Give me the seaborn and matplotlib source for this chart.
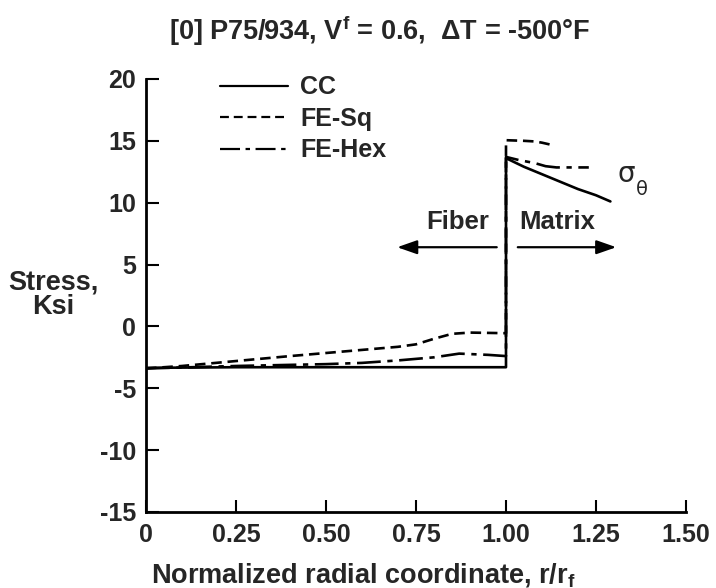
import matplotlib
matplotlib.use("Agg")
import matplotlib.pyplot as plt
import seaborn as sns
import pandas as pd

sns.set_theme(style="white")
FAM = ['Liberation Sans', 'DejaVu Sans']
plt.rcParams['font.family'] = FAM
plt.rcParams['font.weight'] = 'bold'
plt.rcParams['mathtext.fontset'] = 'custom'
plt.rcParams['mathtext.rm'] = 'Liberation Sans:bold'
plt.rcParams['mathtext.it'] = 'Liberation Sans:bold'
plt.rcParams['mathtext.bf'] = 'Liberation Sans:bold'

# CC (concentric cylinder)
cc_r = [0.0, 0.25, 0.5, 0.75, 1.0, 1.0, 1.05, 1.10, 1.15, 1.20, 1.25, 1.29]
cc_s = [-3.35, -3.3, -3.3, -3.3, -3.3, 13.6, 12.9, 12.3, 11.7, 11.1, 10.6, 10.1]

# FE square array
sq_r = [0.0, 0.1, 0.25, 0.4, 0.5, 0.6, 0.7, 0.75, 0.8, 0.85, 0.9, 1.0, 1.0, 1.05, 1.08, 1.10, 1.13]
sq_s = [-3.4, -3.2, -2.8, -2.4, -2.15, -1.9, -1.65, -1.45, -1.0, -0.6, -0.5, -0.55, 15.05, 15.0, 14.95, 14.85, 14.65]

# FE hexagonal array
hx_r = [0.0, 0.25, 0.5, 0.6, 0.7, 0.8, 0.87, 0.95, 1.0, 1.0, 1.035, 1.08, 1.11, 1.14, 1.23]
hx_s = [-3.4, -3.2, -3.05, -2.95, -2.75, -2.5, -2.2, -2.3, -2.4, 13.7, 13.45, 13.2, 12.95, 12.85, 12.85]

x_ticks = [0, 0.25, 0.5, 0.75, 1.0, 1.25, 1.5]
x_tick_labels = ["0", "0.25", "0.50", "0.75", "1.00", "1.25", "1.50"]
y_ticks = [-15, -10, -5, 0, 5, 10, 15, 20]

fig = plt.figure(figsize=(7.16, 5.88), dpi=100)
ax = fig.add_axes([0.2039, 0.1293, 0.7542, 0.7364])

lw = 1.9
sns.lineplot(x=cc_r, y=cc_s, sort=False, ax=ax, color='black', lw=lw, label='CC', estimator=None)
sns.lineplot(x=sq_r, y=sq_s, sort=False, ax=ax, color='black', lw=lw, label='FE-Sq', estimator=None)
sns.lineplot(x=hx_r, y=hx_s, sort=False, ax=ax, color='black', lw=lw, label='FE-Hex', estimator=None)
lines = ax.get_lines()
lines[1].set_dashes([4, 2.2])
lines[2].set_dashes([9, 2.5, 2, 2.5])

ax.set_xlim(0, 1.5)
ax.set_ylim(-15, 20)
ax.set_xticks(x_ticks)
ax.set_xticklabels(x_tick_labels)
ax.set_yticks(y_ticks)
ax.set_yticklabels([str(v) for v in y_ticks])
ax.tick_params(direction='in', length=9, width=1.5, labelsize=18, color='black',
               bottom=True, left=True)
ax.tick_params(axis='x', pad=8)
ax.tick_params(axis='y', pad=7)
for s in ['top', 'right']:
    ax.spines[s].set_visible(False)
for s in ['left', 'bottom']:
    ax.spines[s].set_color('black')
    ax.spines[s].set_linewidth(2)
for t in ax.get_xticklabels() + ax.get_yticklabels():
    t.set_fontweight('bold')

leg = ax.legend(loc='upper left', bbox_to_anchor=(0.096, 1.06), frameon=False,
                handlelength=2.7, handletextpad=0.5, labelspacing=0.3,
                prop={'size': 18, 'weight': 'bold'})
for line in leg.get_lines():
    line.set_linewidth(1.6)

ax.set_xlabel("")
ax.set_ylabel("")
fig.text(0.507, 0.022, "Normalized radial coordinate, r/r$_\\mathregular{f}$", fontsize=19.5,
         fontweight='bold', ha='center', va='center')
fig.text(0.074, 0.499, "Stress,\nKsi", fontsize=19.5, fontweight='bold', ha='center', va='center',
         linespacing=0.95)
fig.text(0.53, 0.948, "[0] P75/934, V$^\\mathregular{f}$ = 0.6,  \u0394T = -500\u00b0F", fontsize=19.5,
         fontweight='bold', ha='center', va='center')

# annotations
ax.annotate("", xy=(0.69, 6.4), xytext=(0.982, 6.4),
            arrowprops=dict(arrowstyle='-|>,head_length=1.0,head_width=0.35', color='black', lw=1.6))
ax.annotate("", xy=(1.314, 6.4), xytext=(1.025, 6.4),
            arrowprops=dict(arrowstyle='-|>,head_length=1.0,head_width=0.35', color='black', lw=1.6))
ax.text(0.867, 8.45, "Fiber", fontsize=18.5, fontweight='bold', ha='center', va='center')
ax.text(1.142, 8.45, "Matrix", fontsize=18.5, fontweight='bold', ha='center', va='center')
ax.text(1.31, 12.3, "\u03c3", fontsize=20, fontweight='normal', ha='left', va='center',
        family=['DejaVu Sans'])
ax.text(1.36, 11.1, "\u03b8", fontsize=14, fontweight='normal', ha='left', va='center',
        family=['DejaVu Sans'])

fig.savefig("out.png", dpi=100)
